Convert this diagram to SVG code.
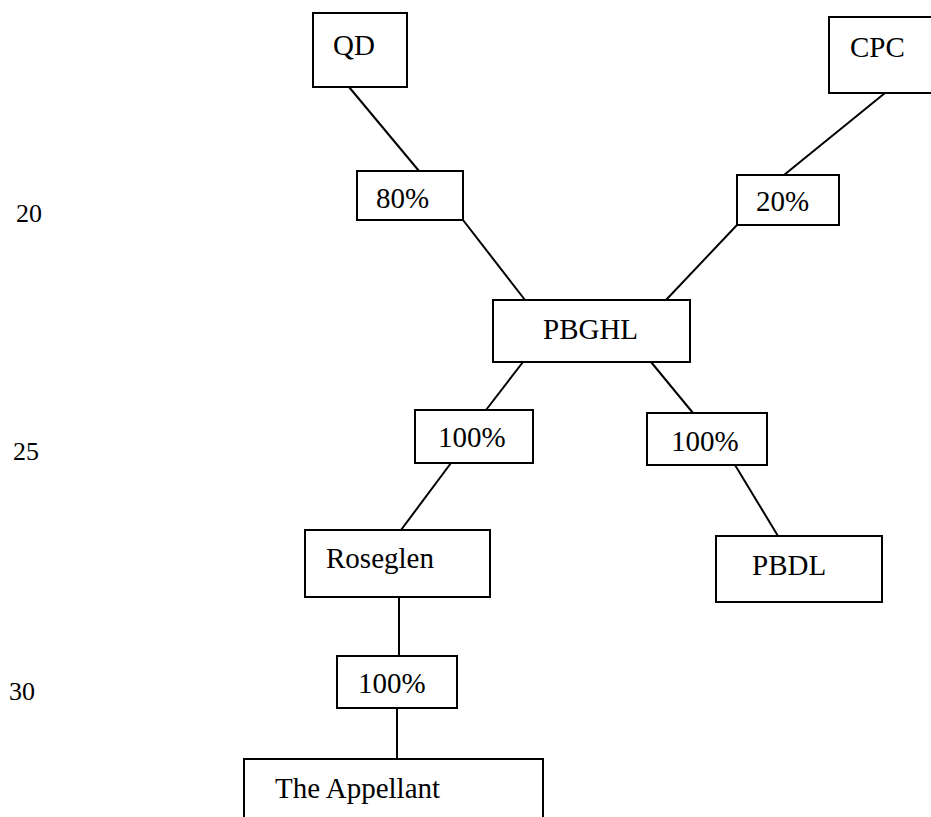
<svg xmlns="http://www.w3.org/2000/svg" width="931" height="817" viewBox="0 0 931 817">
<style>
.box{fill:#fff;stroke:#000;stroke-width:2}
.t{font-size:29px;fill:#000}
.n{font-size:26px;fill:#000}
.c{stroke:#000;stroke-width:2;fill:none}
</style>
<rect width="931" height="817" fill="#fff"/>
<g id="connectors">
<line class="c" x1="349" y1="87" x2="419" y2="171"/>
<line class="c" x1="463" y1="220" x2="525" y2="300"/>
<line class="c" x1="885" y1="93" x2="784" y2="175"/>
<line class="c" x1="737" y1="225" x2="666" y2="300"/>
<line class="c" x1="523" y1="362" x2="486" y2="410"/>
<line class="c" x1="651" y1="362" x2="693" y2="413"/>
<line class="c" x1="451" y1="463" x2="401" y2="530"/>
<line class="c" x1="735" y1="465" x2="778" y2="536"/>
<line class="c" x1="399" y1="597" x2="399" y2="656"/>
<line class="c" x1="397" y1="708" x2="397" y2="759"/>
</g>
<g id="margin-numbers" font-family="'Liberation Serif', 'DejaVu Serif', serif">
<text class="n" x="16" y="222">20</text>
<text class="n" x="13" y="460">25</text>
<text class="n" x="9" y="700">30</text>
</g>
<g font-family="'Liberation Serif', 'DejaVu Serif', serif">
<g id="node-qd"><rect class="box" x="313" y="13" width="94" height="74"/><text class="t" x="333" y="55">QD</text></g>
<g id="node-cpc"><rect class="box" x="829" y="17" width="104" height="76"/><text class="t" x="850" y="57">CPC</text></g>
<g id="node-80"><rect class="box" x="357" y="171" width="106" height="49"/><text class="t" x="376" y="208">80%</text></g>
<g id="node-20"><rect class="box" x="737" y="175" width="102" height="50"/><text class="t" x="756" y="211">20%</text></g>
<g id="node-pbghl"><rect class="box" x="493" y="300" width="197" height="62"/><text class="t" x="543" y="339">PBGHL</text></g>
<g id="node-100a"><rect class="box" x="415" y="410" width="118" height="53"/><text class="t" x="438" y="447">100%</text></g>
<g id="node-100b"><rect class="box" x="647" y="413" width="120" height="52"/><text class="t" x="671" y="451">100%</text></g>
<g id="node-roseglen"><rect class="box" x="305" y="530" width="185" height="67"/><text class="t" x="326" y="568">Roseglen</text></g>
<g id="node-pbdl"><rect class="box" x="716" y="536" width="166" height="66"/><text class="t" x="752" y="575">PBDL</text></g>
<g id="node-100c"><rect class="box" x="337" y="656" width="120" height="52"/><text class="t" x="358" y="693">100%</text></g>
<g id="node-appellant"><rect class="box" x="244" y="759" width="299" height="70"/><text class="t" x="275" y="798">The Appellant</text></g>
</g>
</svg>
